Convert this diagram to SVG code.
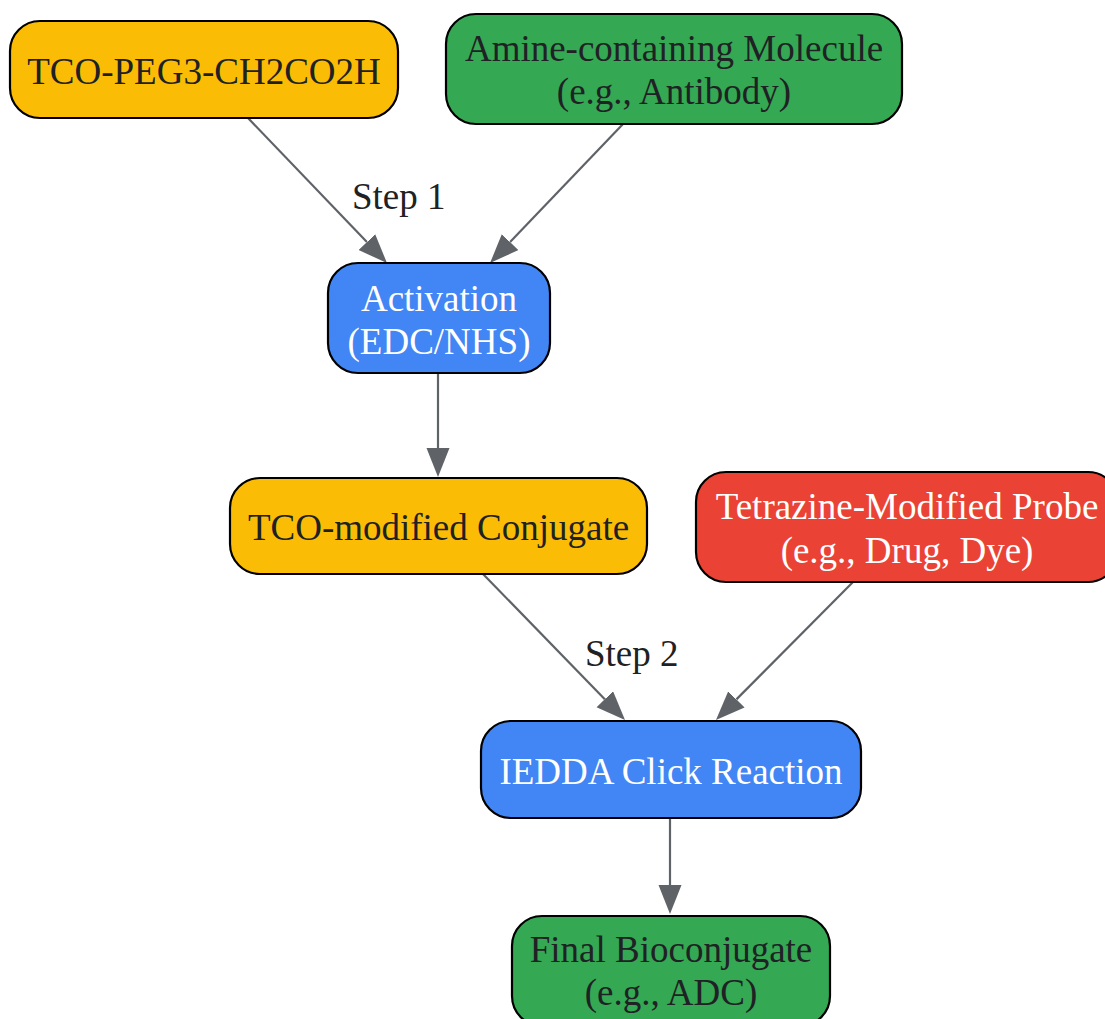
<svg xmlns="http://www.w3.org/2000/svg" width="1105" height="1019" viewBox="0 0 1105 1019">
<defs>
<style>
.n rect{stroke:#000;stroke-width:2.2}
.yel{fill:#FBBC05}.grn{fill:#34A853}.blu{fill:#4285F4}.red{fill:#EA4335}
text{font-family:"Liberation Serif","Times New Roman",serif;font-size:37px;text-anchor:middle}
.dk{fill:#202124}.wt{fill:#FFFFFF}
.e line{stroke:#5F6368;stroke-width:2.2;fill:none;marker-end:url(#ah)}
.lbl{fill:#202124;text-anchor:start}
</style>
<marker id="ah" markerUnits="userSpaceOnUse" markerWidth="32" markerHeight="26" refX="0" refY="11.5" orient="auto">
<path d="M0,0 L29,11.5 L0,23 z" fill="#5F6368"/>
</marker>
</defs>
<rect width="1105" height="1019" fill="#FFFFFF"/>
<g id="edges" class="e">
<line x1="248" y1="118" x2="366.9" y2="242.1"/>
<line x1="623" y1="124" x2="510.1" y2="242.1"/>
<line x1="438" y1="373" x2="438" y2="448"/>
<line x1="483" y1="574" x2="604.8" y2="699.2"/>
<line x1="853" y1="582" x2="736.4" y2="699.4"/>
<line x1="670" y1="818" x2="670" y2="885"/>
<text class="lbl" x="352" y="209">Step 1</text>
<text class="lbl" x="585" y="666">Step 2</text>
</g>
<g id="n1" class="n"><rect class="yel" x="10" y="21" width="388" height="97" rx="30"/><text class="dk" x="204" y="84">TCO-PEG3-CH2CO2H</text></g>
<g id="n2" class="n"><rect class="grn" x="446" y="14" width="456" height="110" rx="30"/><text class="dk" x="674" y="61">Amine-containing Molecule</text><text class="dk" x="674" y="104">(e.g., Antibody)</text></g>
<g id="n3" class="n"><rect class="blu" x="328" y="263" width="222" height="110" rx="30"/><text class="wt" x="439" y="311">Activation</text><text class="wt" x="439" y="354">(EDC/NHS)</text></g>
<g id="n4" class="n"><rect class="yel" x="230" y="478" width="417" height="96" rx="30"/><text class="dk" x="438.5" y="540">TCO-modified Conjugate</text></g>
<g id="n5" class="n"><rect class="red" x="696" y="472" width="422" height="110" rx="30"/><text class="wt" x="907" y="519">Tetrazine-Modified Probe</text><text class="wt" x="907" y="563">(e.g., Drug, Dye)</text></g>
<g id="n6" class="n"><rect class="blu" x="481" y="721" width="380" height="97" rx="30"/><text class="wt" x="671" y="784">IEDDA Click Reaction</text></g>
<g id="n7" class="n"><rect class="grn" x="512" y="916" width="318" height="110" rx="30"/><text class="dk" x="671" y="962">Final Bioconjugate</text><text class="dk" x="671" y="1005">(e.g., ADC)</text></g>
</svg>
